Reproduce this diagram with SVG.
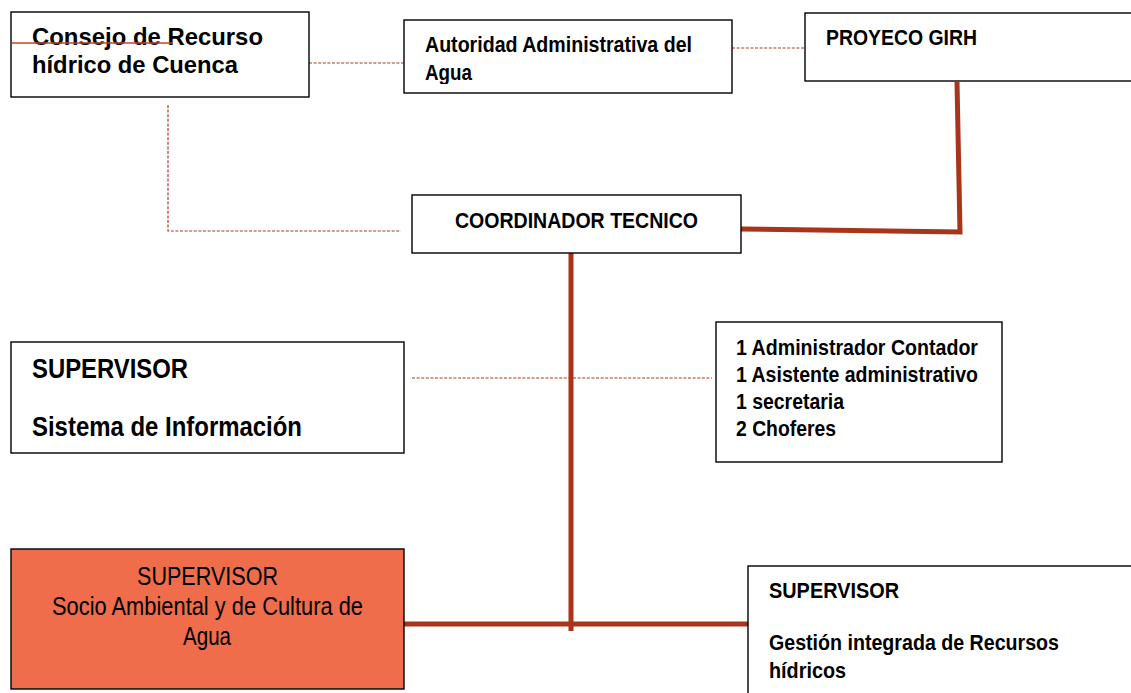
<svg xmlns="http://www.w3.org/2000/svg" width="1131" height="693" viewBox="0 0 1131 693">
<defs>
<style>
.box{fill:#fff;stroke:#000;stroke-width:1.4}
.orange{fill:#EF6D4A;stroke:#000;stroke-width:1.4}
.b{font-family:"Liberation Sans Narrow","Liberation Sans",Arial,sans-serif;font-weight:bold;fill:#000}
.w{font-family:"Liberation Sans",Arial,sans-serif;font-weight:bold;fill:#000}
.r{font-family:"Liberation Sans Narrow","Liberation Sans",Arial,sans-serif;font-weight:normal;fill:#000}
.thick{fill:none;stroke:#A9341A;stroke-width:5}
.dash{fill:none;stroke:#A93A20;stroke-width:1.2;stroke-dasharray:3 1.6}
</style>
<clipPath id="clipAut"><rect x="404" y="20" width="328" height="64"/></clipPath>
</defs>
<rect width="1131" height="693" fill="#fff"/>

<g id="connectors">
<line class="dash" x1="309" y1="63" x2="404" y2="63"/>
<line class="dash" x1="732" y1="48" x2="806" y2="48"/>
<polyline class="dash" points="168,105 168,231 401,231"/>
<line class="dash" x1="412" y1="378" x2="712" y2="378"/>
<polyline class="thick" points="741,229 960,232 957,82"/>
<line class="thick" x1="571" y1="247" x2="571" y2="631"/>
<line class="thick" x1="404" y1="624" x2="748" y2="624"/>
</g>

<g id="consejo">
<rect class="box" x="11" y="12" width="298" height="85"/>
<text class="w" x="32" y="45" font-size="24" textLength="231" lengthAdjust="spacingAndGlyphs">Consejo de Recurso</text>
<text class="w" x="32" y="73" font-size="24" textLength="206" lengthAdjust="spacingAndGlyphs">hídrico de Cuenca</text>
<line x1="12" y1="43" x2="173" y2="43" stroke="#C0452A" stroke-width="1.5"/>
</g>

<g id="autoridad">
<rect class="box" x="404" y="20" width="328" height="73"/>
<g clip-path="url(#clipAut)">
<text class="b" x="425" y="52" font-size="22" textLength="267" lengthAdjust="spacingAndGlyphs">Autoridad Administrativa del</text>
<text class="b" x="425" y="80" font-size="22" textLength="47" lengthAdjust="spacingAndGlyphs">Agua</text>
</g>
</g>

<g id="proyeco">
<rect class="box" x="805" y="13" width="340" height="68"/>
<text class="b" x="826" y="45" font-size="22" textLength="151" lengthAdjust="spacingAndGlyphs">PROYECO GIRH</text>
</g>

<g id="coordinador">
<rect class="box" x="412" y="195" width="329" height="58"/>
<text class="b" x="455" y="228" font-size="22" textLength="243" lengthAdjust="spacingAndGlyphs">COORDINADOR TECNICO</text>
</g>

<g id="sup-info">
<rect class="box" x="11" y="342" width="393" height="111"/>
<text class="b" x="32" y="378" font-size="27" textLength="156" lengthAdjust="spacingAndGlyphs">SUPERVISOR</text>
<text class="b" x="32" y="436" font-size="27" textLength="270" lengthAdjust="spacingAndGlyphs">Sistema de Información</text>
</g>

<g id="personal">
<rect class="box" x="716" y="322" width="286" height="140"/>
<text class="b" x="736" y="355" font-size="22" textLength="242" lengthAdjust="spacingAndGlyphs">1 Administrador Contador</text>
<text class="b" x="736" y="382" font-size="22" textLength="242" lengthAdjust="spacingAndGlyphs">1 Asistente administrativo</text>
<text class="b" x="736" y="409" font-size="22" textLength="108" lengthAdjust="spacingAndGlyphs">1 secretaria</text>
<text class="b" x="736" y="436" font-size="22" textLength="100" lengthAdjust="spacingAndGlyphs">2 Choferes</text>
</g>

<g id="sup-socio">
<rect class="orange" x="11" y="549" width="393" height="140"/>
<text class="r" x="137" y="585" font-size="25" textLength="141" lengthAdjust="spacingAndGlyphs">SUPERVISOR</text>
<text class="r" x="52" y="615" font-size="25" textLength="311" lengthAdjust="spacingAndGlyphs">Socio Ambiental y de Cultura de</text>
<text class="r" x="183" y="645" font-size="25" textLength="48" lengthAdjust="spacingAndGlyphs">Agua</text>
</g>

<g id="sup-girh">
<rect class="box" x="748" y="566" width="400" height="140"/>
<text class="b" x="769" y="598" font-size="22" textLength="130" lengthAdjust="spacingAndGlyphs">SUPERVISOR</text>
<text class="b" x="769" y="650" font-size="22" textLength="290" lengthAdjust="spacingAndGlyphs">Gestión integrada de Recursos</text>
<text class="b" x="769" y="678" font-size="22" textLength="77" lengthAdjust="spacingAndGlyphs">hídricos</text>
</g>
</svg>
